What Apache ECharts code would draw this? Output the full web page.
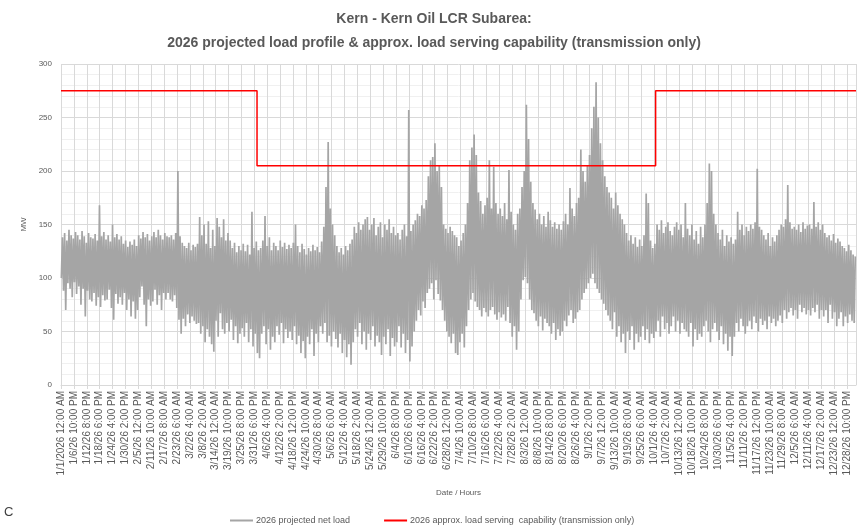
<!DOCTYPE html>
<html>
<head>
<meta charset="utf-8">
<script src="https://cdn.jsdelivr.net/npm/echarts@6/dist/echarts.min.js"></script>
<style>
  html, body { margin: 0; padding: 0; background: #fff; }
  #chart { width: 868px; height: 526px; }
</style>
</head>
<body>
<div id="chart"></div>
<script>
// daily peak / trough of the projected net load (MW), one row per week
const dailyHigh = [
  138, 142, 135, 145, 140, 137, 143,
  140, 136, 144, 139, 133, 142, 138,
  137, 141, 135, 168, 139, 143, 136,
  140, 134, 150, 138, 141, 136, 139,
  132, 135, 129, 134, 131, 136, 130,
  140, 137, 143, 138, 141, 135, 139,
  143, 138, 145, 140, 136, 142, 139,
  138, 140, 136, 142, 200, 139, 133,
  130, 128, 133, 126, 131, 129, 132,
  157, 140, 150, 132, 153, 128, 145,
  130, 156, 148, 138, 155, 135, 142,
  135, 128, 133, 124, 130, 126, 132,
  125, 131, 122, 162, 128, 134, 126,
  128, 135, 158, 130, 138, 126, 133,
  130, 126, 135, 129, 133, 127, 131,
  128, 133, 150, 130, 124, 132, 127,
  122, 128, 125, 131, 126, 129, 124,
  134, 148, 185, 227, 165, 150, 140,
  130, 124, 128, 122, 130, 126, 132,
  136, 148, 142, 152, 145, 150, 155,
  157, 145, 150, 156, 140, 148, 152,
  138, 150, 145, 155, 142, 148, 140,
  142, 136, 145, 150, 139, 257, 144,
  150, 154, 160, 158, 168, 165, 173,
  195, 210, 213, 226, 200, 205, 185,
  150, 146, 142, 148, 144, 140, 138,
  130, 135, 142, 150, 170, 210, 222,
  234, 215, 180, 172, 160, 168, 175,
  210, 165, 204, 170, 160, 165, 158,
  170, 155, 201, 162, 150, 145, 160,
  165, 185, 200, 262, 230, 190, 170,
  164, 155, 160, 150, 158, 148, 162,
  154, 148, 152, 146, 150, 145, 153,
  160, 150, 184, 165, 158, 170, 175,
  220, 200, 190, 205, 215, 240, 260,
  283, 250, 226, 210, 195, 185, 180,
  175, 165, 180, 168, 160, 155, 150,
  142, 135, 140, 132, 138, 129, 136,
  130, 140, 179, 170, 135, 128, 132,
  150, 145, 154, 142, 148, 152, 144,
  140, 148, 152, 145, 150, 138, 170,
  146, 140, 150, 136, 144, 132, 148,
  138, 150, 170, 207, 200, 160, 150,
  142, 136, 145, 130, 140, 134, 138,
  132, 136, 162, 145, 150, 140, 148,
  144, 150, 146, 152, 202, 148, 145,
  140, 136, 142, 130, 138, 134, 140,
  145, 150, 148, 155, 187, 152, 146,
  148, 145, 150, 143, 152, 146, 149,
  150, 146, 171, 148, 152, 145, 150,
  142, 138, 140, 135, 141, 133, 137,
  134, 130, 128, 125, 131, 126, 122,
  120
];
const dailyLow = [
  100, 88, 70, 95, 90, 82, 96,
  85, 92, 75, 90, 64, 88, 80,
  78, 86, 74, 82, 73, 84, 79,
  80, 89, 72, 61, 85, 76, 82,
  75, 86, 70, 80, 64, 78, 62,
  70, 82, 92, 75, 55, 80, 74,
  78, 89, 75, 84, 70, 86, 80,
  86, 80, 78, 84, 72, 61, 48,
  62, 55, 66, 58, 64, 60, 57,
  58, 48, 55, 40, 52, 45, 38,
  31, 60, 45, 67, 52, 48, 58,
  50, 61, 42, 55, 39, 48, 53,
  45, 58, 40, 52, 36, 48, 30,
  25, 48, 55, 38, 52, 33, 45,
  40, 55, 47, 58, 39, 52, 44,
  50, 42, 55, 38, 46, 30, 41,
  25, 45, 38, 52, 27, 48, 40,
  55, 48, 58, 40, 46, 36, 50,
  43, 35, 48, 30, 42, 26, 38,
  19, 40, 52, 45, 58, 38, 50,
  33, 48, 42, 55, 36, 46, 40,
  28, 45, 38, 52, 27, 44, 36,
  40, 55, 35, 48, 30, 42, 22,
  36, 50, 60, 70, 65, 78, 72,
  86, 90, 95, 80, 98, 85, 79,
  70, 60, 50, 45, 39, 48, 30,
  28, 40, 48, 35, 55, 70, 80,
  86, 78, 73, 70, 64, 72, 68,
  64, 70, 73, 66, 61, 68, 63,
  66, 60, 73, 58, 45, 55, 33,
  50, 80, 98, 101, 95, 80, 70,
  67, 60, 55, 64, 51, 62, 58,
  55, 48, 58, 42, 52, 46, 50,
  60, 55, 65, 70, 58, 62, 68,
  70, 80, 86, 90, 95, 100, 104,
  95, 90, 86, 80, 76, 70, 65,
  60, 52, 68, 45, 55, 40, 48,
  30, 50, 42, 55, 33, 48, 40,
  45, 55, 42, 52, 39, 48, 44,
  50, 60, 45, 64, 52, 58, 48,
  55, 64, 50, 60, 48, 58, 52,
  50, 45, 58, 36, 52, 42, 48,
  45, 55, 60, 50, 40, 52, 58,
  50, 42, 55, 38, 48, 32, 45,
  27, 45, 58, 50, 62, 55, 48,
  55, 60, 52, 64, 58, 50, 62,
  56, 60, 52, 64, 58, 62, 55,
  60, 65, 58, 70, 62, 68, 72,
  65, 70, 62, 75, 68, 72, 66,
  70, 65, 72, 68, 75, 62, 70,
  64, 70, 58, 75, 62, 68, 55,
  62, 68, 55, 64, 58, 66, 60,
  58
];
// hour of day for the trough and the peak
const lowHour = 4;
const highHour = 16;

// load serving capability steps: [hour of year, MW]
const capabilitySteps = [
  [0, 275],
  [2160, 275],
  [2160, 205],
  [6552, 205],
  [6552, 275],
  [8760, 275]
];

const hoursInYear = 8760;
const labelStep = 142;
// the sheet's date column jumps one day at the end of February
const skipFromHour = 1392;

// hourly label like Excel: 1/6/26 10:00 PM
function hourLabel(h) {
  const shift = h >= skipFromHour ? 24 : 0;
  const d = new Date(Date.UTC(2026, 0, 1) + (h + shift) * 3600000);
  const m = d.getUTCMonth() + 1;
  const day = d.getUTCDate();
  let hr = d.getUTCHours();
  const ap = hr < 12 ? "AM" : "PM";
  hr = hr % 12;
  if (hr === 0) hr = 12;
  const yr = h === 0 ? "2026" : "26";
  return m + "/" + day + "/" + yr + " " + hr + ":00 " + ap;
}

const loadData = [];
dailyHigh.forEach((hi, d) => {
  loadData.push([d * 24 + lowHour, dailyLow[d]]);
  loadData.push([d * 24 + highHour, hi]);
});

const chart = echarts.init(document.getElementById("chart"));

const labelFont = "'Liberation Sans', Arial, sans-serif";

const option = {
  animation: false,
  title: {
    text: "Kern - Kern Oil LCR Subarea:\n2026 projected load profile & approx. load serving capability (transmission only)",
    left: "center",
    top: 2,
    textStyle: {
      fontFamily: labelFont,
      fontSize: 14,
      fontWeight: "bold",
      color: "#595959",
      lineHeight: 24
    }
  },
  legend: {
    left: 225,
    top: 511,
    itemWidth: 23,
    itemHeight: 2,
    itemGap: 34,
    icon: "rect",
    textStyle: { fontFamily: labelFont, fontSize: 9, color: "#595959", padding: [0, 0, 0, -2] },
    data: ["2026 projected net load", "2026 approx. load serving  capability (transmission only)"]
  },
  grid: {
    left: 61,
    right: 12,
    top: 64,
    bottom: 141
  },
  xAxis: {
    type: "value",
    min: 0,
    max: hoursInYear,
    interval: labelStep,
    name: "Date / Hours",
    nameLocation: "middle",
    nameGap: 104,
    nameTextStyle: { fontFamily: labelFont, fontSize: 8, color: "#595959" },
    axisLine: { show: true, lineStyle: { color: "#d9d9d9" } },
    axisTick: { show: true, length: 4, lineStyle: { color: "#d9d9d9" } },
    axisLabel: {
      rotate: 90,
      fontFamily: labelFont,
      fontSize: 10,
      color: "#595959",
      margin: 6,
      showMaxLabel: false,
      formatter: (v) => hourLabel(v)
    },
    splitLine: { show: true, lineStyle: { color: "#d9d9d9" } }
  },
  yAxis: {
    type: "value",
    min: 0,
    max: 300,
    interval: 50,
    name: "MW",
    nameLocation: "middle",
    nameGap: 25,
    nameTextStyle: { fontFamily: labelFont, fontSize: 8, color: "#595959" },
    axisLine: { show: false },
    axisTick: { show: false },
    axisLabel: { fontFamily: labelFont, fontSize: 8, color: "#595959", margin: 9 },
    splitLine: { show: true, lineStyle: { color: "#d9d9d9" } },
    minorTick: { show: false, splitNumber: 5 },
    minorSplitLine: { show: true, lineStyle: { color: "#f0f0f0" } }
  },
  series: [
    {
      name: "2026 projected net load",
      type: "line",
      data: loadData,
      showSymbol: false,
      color: "#a5a5a5",
      lineStyle: { width: 1.7, color: "#a5a5a5" }
    },
    {
      name: "2026 approx. load serving  capability (transmission only)",
      type: "line",
      data: capabilitySteps,
      showSymbol: false,
      color: "#ff0000",
      lineStyle: { width: 1.5, color: "#ff0000" }
    }
  ],
  graphic: [
    {
      type: "text",
      left: 4,
      top: 506,
      style: { text: "C", fontFamily: labelFont, fontSize: 13, fill: "#404040" }
    }
  ]
};

chart.setOption(option);
</script>
</body>
</html>
